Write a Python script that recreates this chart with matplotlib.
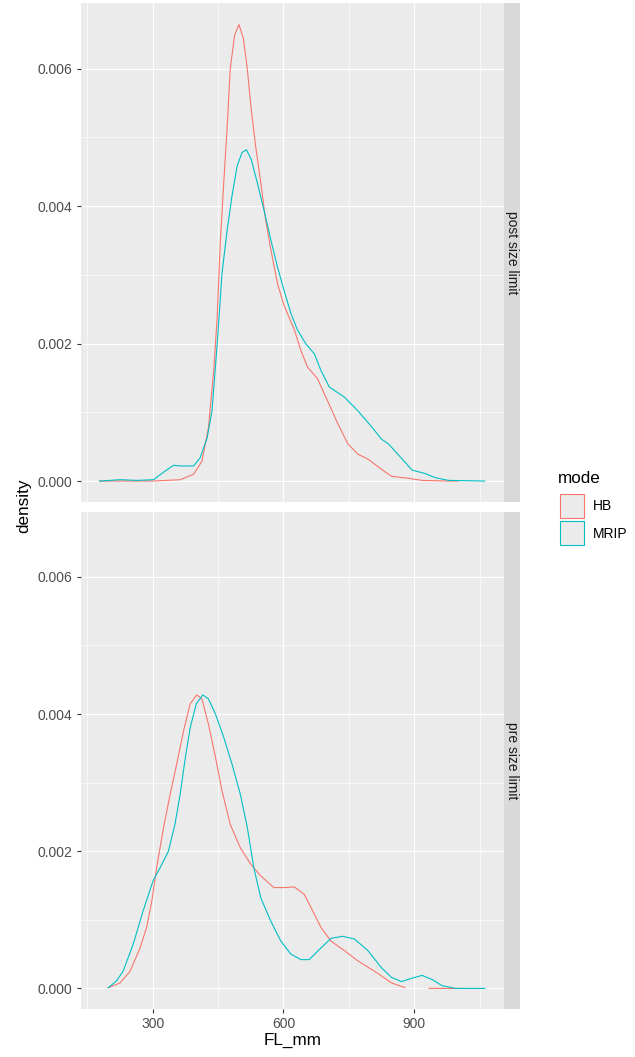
import numpy as np
import matplotlib.pyplot as plt
from matplotlib.patches import Rectangle

plt.rcParams['font.family'] = ['Liberation Sans', 'DejaVu Sans']

# facets and groups
panels = ['post size limit', 'pre size limit']
modes = ['HB', 'MRIP']
mode_colors = ['#F8766D', '#00BFC4']

# density curves (FL_mm, density)
hb_post_x = [178, 300, 363, 394, 413, 428, 440, 448, 455, 463, 471, 478, 488, 498, 508, 517, 526, 536,
             548, 559, 571, 586, 601, 625, 640, 655, 678, 701, 725, 748, 771, 794, 825, 848, 887, 918,
             979, 1000]
hb_post_y = [0, 0, 0.00002, 0.0001, 0.00029, 0.00078, 0.00161, 0.00239, 0.00346, 0.00434, 0.00517,
             0.0060, 0.00649, 0.00664, 0.00644, 0.0060, 0.00541, 0.00488, 0.00434, 0.0038, 0.00337,
             0.00288, 0.00256, 0.0022, 0.0019, 0.00166, 0.00149, 0.00117, 0.00083, 0.00054, 0.00039,
             0.00032, 0.00017, 0.00007, 0.00004, 0.00001, 0, 0]

mrip_post_x = [178, 225, 264, 302, 325, 348, 363, 394, 409, 425, 436, 448, 459, 471, 482, 494, 505, 515,
               526, 540, 555, 571, 586, 601, 617, 632, 651, 671, 686, 705, 740, 771, 801, 825, 841, 871,
               895, 925, 948, 979, 1062]
mrip_post_y = [0, 0.00002, 0.00001, 0.00002, 0.00013, 0.00023, 0.00022, 0.00022, 0.00034, 0.00063,
               0.00102, 0.002, 0.00302, 0.00366, 0.00415, 0.00459, 0.00478, 0.00482, 0.00468, 0.00434,
               0.00395, 0.00351, 0.00312, 0.00278, 0.00244, 0.0022, 0.002, 0.00185, 0.00161, 0.00137,
               0.00122, 0.00102, 0.0008, 0.00061, 0.00054, 0.00033, 0.00016, 0.00011, 0.00005, 0.00001, 0]

hb_pre_x = [198, 225, 248, 271, 286, 298, 309, 325, 340, 355, 371, 386, 401, 413, 428, 444, 459, 478,
            501, 525, 548, 578, 601, 625, 648, 667, 686, 709, 740, 771, 809, 848, 879, np.nan, 934, 1012]
hb_pre_y = [0.00001, 0.00008, 0.00025, 0.00059, 0.00089, 0.00127, 0.00176, 0.00235, 0.00283, 0.00327,
            0.00376, 0.00415, 0.00428, 0.00422, 0.00385, 0.00337, 0.00288, 0.00239, 0.00205, 0.00181,
            0.00164, 0.00147, 0.00147, 0.00148, 0.00137, 0.00113, 0.00089, 0.00069, 0.00055, 0.0004,
            0.00025, 0.00008, 0.00001, np.nan, 0, 0]

mrip_pre_x = [198, 217, 232, 255, 278, 301, 317, 336, 351, 363, 375, 386, 400, 415, 428, 444, 463, 482,
              501, 517, 532, 548, 571, 594, 617, 640, 659, 686, 709, 736, 763, 794, 825, 848, 871, 895,
              918, 941, 964, 995, 1062]
mrip_pre_y = [0.00001, 0.00011, 0.00025, 0.00064, 0.00113, 0.00157, 0.00176, 0.002, 0.00239, 0.00283,
              0.00337, 0.0038, 0.00415, 0.00428, 0.00422, 0.004, 0.00366, 0.00327, 0.00283, 0.00235,
              0.00176, 0.00132, 0.00098, 0.00069, 0.0005, 0.00042, 0.00042, 0.00059, 0.00073, 0.00076,
              0.00072, 0.00055, 0.0003, 0.00016, 0.0001, 0.00015, 0.00019, 0.00013, 0.00004, 0, 0]

curves = [[(hb_post_x, hb_post_y), (mrip_post_x, mrip_post_y)],
          [(hb_pre_x, hb_pre_y), (mrip_pre_x, mrip_pre_y)]]

W, H = 635, 1057
fig = plt.figure(figsize=(W / 100, H / 100), dpi=100)

def fx(px):
    return px / W

def fy(py):
    return 1 - py / H

panel_px = [(3.3, 501.7), (511.7, 1009.0)]
left, right = 81, 504

for i, (top, bot) in enumerate(panel_px):
    ax = fig.add_axes([fx(left), fy(bot), fx(right - left), (bot - top) / H])
    ax.set_facecolor('#EBEBEB')
    for s in ax.spines.values():
        s.set_visible(False)
    ax.set_xlim(135.5, 1106)
    ax.set_ylim(-0.0003, 0.00695)
    ax.set_xticks([300, 600, 900])
    ax.set_xticks([150, 450, 750, 1050], minor=True)
    ax.set_yticks([0, 0.002, 0.004, 0.006])
    ax.set_yticks([0.001, 0.003, 0.005], minor=True)
    ax.set_yticklabels(['0.000', '0.002', '0.004', '0.006'])
    ax.grid(which='major', color='white', lw=0.85)
    ax.grid(which='minor', color='white', lw=0.45)
    ax.set_axisbelow(True)
    ax.tick_params(which='major', length=3, width=0.8, color='#333333',
                   labelcolor='#4D4D4D', labelsize=10, pad=3)
    ax.tick_params(which='minor', length=0)
    if i == 0:
        ax.tick_params(axis='x', which='both', length=0, labelbottom=False)
    for (xs, ys), c in zip(curves[i], mode_colors):
        ax.plot(xs, ys, color=c, lw=0.8)

    # facet strip
    sax = fig.add_axes([fx(right), fy(bot), fx(16), (bot - top) / H])
    sax.set_facecolor('#D9D9D9')
    sax.set_xticks([])
    sax.set_yticks([])
    for s in sax.spines.values():
        s.set_visible(False)
    sax.text(0.5, 0.5, panels[i], rotation=270, ha='center', va='center',
             fontsize=10, color='#1A1A1A', transform=sax.transAxes)

# axis titles
fig.text(fx(24), fy(506), 'density', rotation=90, ha='center', va='center', fontsize=12.3)
fig.text(fx(292.5), fy(1040), 'FL_mm', ha='center', va='center', fontsize=12.3)

# legend
fig.text(fx(558), fy(478.5), 'mode', ha='left', va='center', fontsize=12.3)
for k, (m, c) in enumerate(zip(modes, mode_colors)):
    y0 = 494 + k * 27
    fig.add_artist(Rectangle((fx(559.5), fy(y0 + 24)), fx(24), 24 / H, transform=fig.transFigure,
                             facecolor='#EBEBEB', edgecolor=c, lw=0.8))
    fig.text(fx(593), fy(y0 + 12.5), m, ha='left', va='center', fontsize=10)

fig.savefig('out.png', dpi=100)
